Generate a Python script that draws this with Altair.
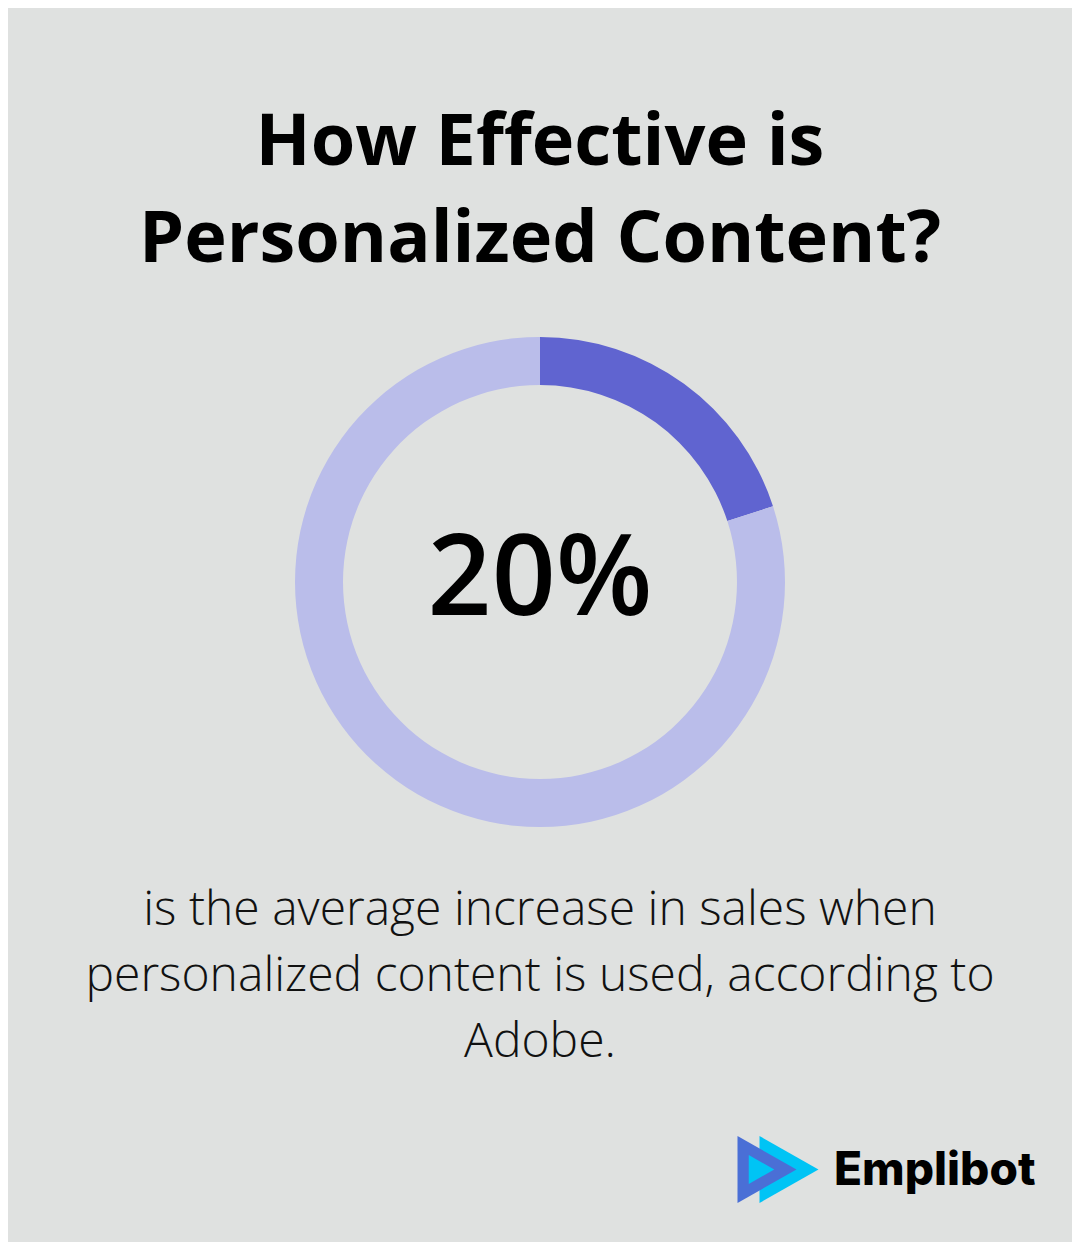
import altair as alt
import pandas as pd

# ---- data ----
segments = ["Increase in sales", "Remainder"]
shares = [20, 80]
seg_colors = ["#6064d0", "#babdea"]
value_label = "20%"
title_lines = ["How Effective is", "Personalized Content?"]
body_lines = [
    "is the average increase in sales when",
    "personalized content is used, according to",
    "Adobe.",
]
brand = "Emplibot"

W, H = 1064, 1234
BG = "#dfe1e0"

donut_df = pd.DataFrame({"segment": segments, "share": shares, "order": [0, 1]})

donut = alt.Chart(donut_df).mark_arc(innerRadius=197, outerRadius=245).encode(
    theta=alt.Theta("share:Q", stack=True),
    order=alt.Order("order:Q"),
    color=alt.Color("segment:N", scale=alt.Scale(domain=segments, range=seg_colors), legend=None),
    x=alt.value(532),
    y=alt.value(574),
)

def txt(s, x, y, size, weight, font="Open Sans", align="center", color="#000000"):
    return alt.Chart(pd.DataFrame({"t": [s]})).mark_text(
        font=font, fontSize=size, fontWeight=weight, align=align,
        baseline="alphabetic", color=color,
    ).encode(text="t:N", x=alt.value(x), y=alt.value(y))

layers = [donut]
layers.append(txt(title_lines[0], 532, 157, 72, "bold"))
layers.append(txt(title_lines[1], 532, 254, 72, "bold"))
layers.append(txt(value_label, 532, 607, 112, 600))
for i, line in enumerate(body_lines):
    layers.append(txt(line, 532, 917 + 66 * i, 48, 300, color="#111111"))
layers.append(txt(brand, 826, 1177, 46, 800, font="Inter", align="left"))

# logo triangles
def tri(color, x, y, size, path):
    return alt.Chart(pd.DataFrame({"k": [0]})).mark_point(
        shape=path, filled=True, fill=color, opacity=1, size=size, strokeWidth=0
    ).encode(x=alt.value(x), y=alt.value(y))

tri_path = "M-0.88,-1 L0.88,0 L-0.88,1 Z"
layers.append(tri("#00c4f5", 781, 1161.5, 67 * 67, tri_path))
layers.append(tri("#4a6fd6", 759, 1161.5, 67 * 67, tri_path))
layers.append(tri("#00c4f5", 753.5, 1161.5, 29 * 29, tri_path))

chart = alt.layer(*layers).properties(
    width=W, height=H, background=BG,
    autosize=alt.AutoSizeParams(type="fit", contains="padding"),
    padding=0,
).configure_view(stroke=None)

chart.save("out.html", embed_options={"renderer": "svg", "actions": False})
